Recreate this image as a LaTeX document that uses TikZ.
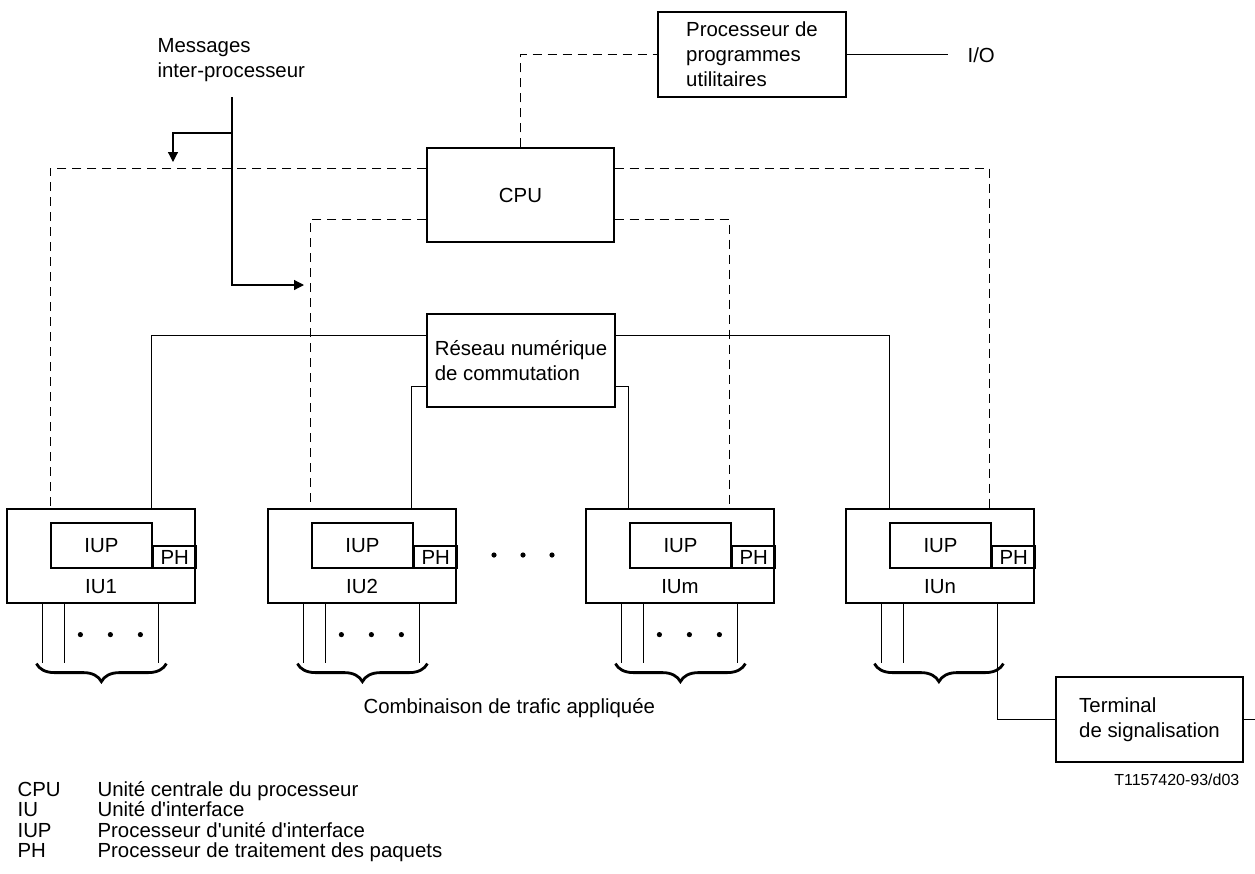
\documentclass[tikz,border=0pt]{standalone}
\usepackage{fontspec}
\setmainfont{Liberation Sans}
\usepackage{tikz}
\usetikzlibrary{arrows.meta, positioning, decorations.pathreplacing}
\tikzset{Reseau/.style = {% styles of the switching diagram
      box/.style = {rectangle, draw, align=left, inner sep=0pt},
  unitbox/.style = {box, minimum width=94pt, minimum height=47pt},
   iupbox/.style = {box, align=center, minimum width=50.5pt, minimum height=22.5pt},
    phbox/.style = {box, align=center, minimum width=21.5pt, minimum height=11pt},
      lbl/.style = {inner sep=0pt, align=left},
     ctrl/.style = {dash pattern=on 4.5pt off 3pt},
    arrow/.style = {-{Triangle[length=5pt,width=5pt]}},
    curly/.style = {decorate, decoration={brace, mirror, amplitude=9pt}, line width=1.4pt}}
        }

\begin{document}
\begin{tikzpicture}[Reseau, x=0.5pt, y=-0.5pt, line width=0.6pt,
  font=\fontsize{10.2}{12.4}\selectfont]
\useasboundingbox (0,0) rectangle (1255,874);

% nodes
\node (upp)  [box, minimum width=94pt, minimum height=42.5pt] at (752,54.5) {Processeur de\\programmes\\utilitaires};
\node (io)   [lbl, anchor=west] at (967,55) {I/O};
\node (msg)  [lbl, anchor=north west] at (157,38) {Messages\\inter-processeur};
\node (cpu)  [box, minimum width=93.5pt, minimum height=47pt] at (520.5,195) {CPU};
\node (rnc)  [box, minimum width=94pt, minimum height=46.5pt] at (521,360.5) {Réseau numérique\\de commutation};

\node (iu1)  [unitbox] at (101,556) {};
\node (iup1) [iupbox, anchor=north west] at ([xshift=22pt,yshift=-7pt]iu1.north west) {IUP};
\node (ph1)  [phbox, anchor=south west] at (iup1.south east) {PH};
\node (lab1) [lbl] at ([yshift=8.75pt]iu1.south) {IU1};

\node (iu2)  [unitbox] at (362,556) {};
\node (iup2) [iupbox, anchor=north west] at ([xshift=22pt,yshift=-7pt]iu2.north west) {IUP};
\node (ph2)  [phbox, anchor=south west] at (iup2.south east) {PH};
\node (lab2) [lbl] at ([yshift=8.75pt]iu2.south) {IU2};

\node (iu3)  [unitbox] at (680,556) {};
\node (iup3) [iupbox, anchor=north west] at ([xshift=22pt,yshift=-7pt]iu3.north west) {IUP};
\node (ph3)  [phbox, anchor=south west] at (iup3.south east) {PH};
\node (lab3) [lbl] at ([yshift=8.75pt]iu3.south) {IUm};

\node (iu4)  [unitbox] at (940,556) {};
\node (iup4) [iupbox, anchor=north west] at ([xshift=22pt,yshift=-7pt]iu4.north west) {IUP};
\node (ph4)  [phbox, anchor=south west] at (iup4.south east) {PH};
\node (lab4) [lbl] at ([yshift=8.75pt]iu4.south) {IUn};

\node (term) [box, minimum width=93.5pt, minimum height=42.5pt] at (1149.5,719.5) {Terminal\\de signalisation};
\node (trafic) [lbl, anchor=base west] at (363,713) {Combinaison de trafic appliquée};
\node (ref)  [lbl, anchor=base east, font=\fontsize{8}{9.6}\selectfont] at (1240,785) {T1157420-93/d03};
\node (leg)  [lbl, anchor=north west, font=\fontsize{10.2}{10.15}\selectfont] at (17,781)
  {\makebox[40pt][l]{CPU}Unité centrale du processeur\\
   \makebox[40pt][l]{IU}Unité d\textquotesingle interface\\
   \makebox[40pt][l]{IUP}Processeur d\textquotesingle unité d\textquotesingle interface\\
   \makebox[40pt][l]{PH}Processeur de traitement des paquets};

\coordinate (mtop)  at (232,97);
\coordinate (mfork) at (232,133);
\coordinate (tipup) at (173,162);
\coordinate (tipdn) at (304,285);

% control paths
\draw[ctrl] (cpu.north) |- (upp.west);
\draw[ctrl] ([yshift=-10.5pt]cpu.north west) -| ([xshift=22pt]iu1.north west);
\draw[ctrl] ([yshift=-10.5pt]cpu.north east) -| ([xshift=72pt]iu4.north west);
\draw[ctrl] ([yshift=-36pt]cpu.north west) -| ([xshift=21.5pt]iu2.north west);
\draw[ctrl] ([yshift=-36pt]cpu.north east) -| ([xshift=72pt]iu3.north west);

% switching paths
\draw ([yshift=-11pt]rnc.north west) -| ([xshift=72.5pt]iu1.north west);
\draw ([yshift=-11pt]rnc.north east) -| ([xshift=22pt]iu4.north west);
\draw ([yshift=-36.5pt]rnc.north west) -| ([xshift=72pt]iu2.north west);
\draw ([yshift=-36.5pt]rnc.north east) -| ([xshift=21.5pt]iu3.north west);
\draw (upp.east) -- (upp.east -| io.west) [shorten >=9.5pt];

% messages
\draw[arrow] (mtop) |- (tipdn);
\draw[arrow] (mfork) -| (tipup);

% traffic lines
\draw ([xshift=18pt]iu1.south west) -- ++(0,59) ([xshift=29pt]iu1.south west) -- ++(0,59) ([xshift=76pt]iu1.south west) -- ++(0,59);
\draw ([xshift=18pt]iu2.south west) -- ++(0,59) ([xshift=29pt]iu2.south west) -- ++(0,59) ([xshift=76pt]iu2.south west) -- ++(0,59);
\draw ([xshift=18pt]iu3.south west) -- ++(0,59) ([xshift=29pt]iu3.south west) -- ++(0,59) ([xshift=76pt]iu3.south west) -- ++(0,59);
\draw ([xshift=18pt]iu4.south west) -- ++(0,59) ([xshift=29pt]iu4.south west) -- ++(0,59);
\draw ([xshift=76pt]iu4.south west) |- (term.west);
\draw (term.east) -- ++(12,0);

\fill ([xshift=37pt,yshift=-15.5pt]iu1.south west) circle (1.3pt) ++(30,0) circle (1.3pt) ++(30,0) circle (1.3pt);
\fill ([xshift=37pt,yshift=-15.5pt]iu2.south west) circle (1.3pt) ++(30,0) circle (1.3pt) ++(30,0) circle (1.3pt);
\fill ([xshift=37pt,yshift=-15.5pt]iu3.south west) circle (1.3pt) ++(30,0) circle (1.3pt) ++(30,0) circle (1.3pt);
\fill (494,555) circle (1.3pt) (523,555) circle (1.3pt) (552,555) circle (1.3pt);

\draw[curly] ([xshift=15pt,yshift=-30pt]iu1.south west) -- ++(130,0);
\draw[curly] ([xshift=15pt,yshift=-30pt]iu2.south west) -- ++(130,0);
\draw[curly] ([xshift=15pt,yshift=-30pt]iu3.south west) -- ++(130,0);
\draw[curly] ([xshift=14.5pt,yshift=-30pt]iu4.south west) -- ++(129,0);

\end{tikzpicture}
\end{document}
